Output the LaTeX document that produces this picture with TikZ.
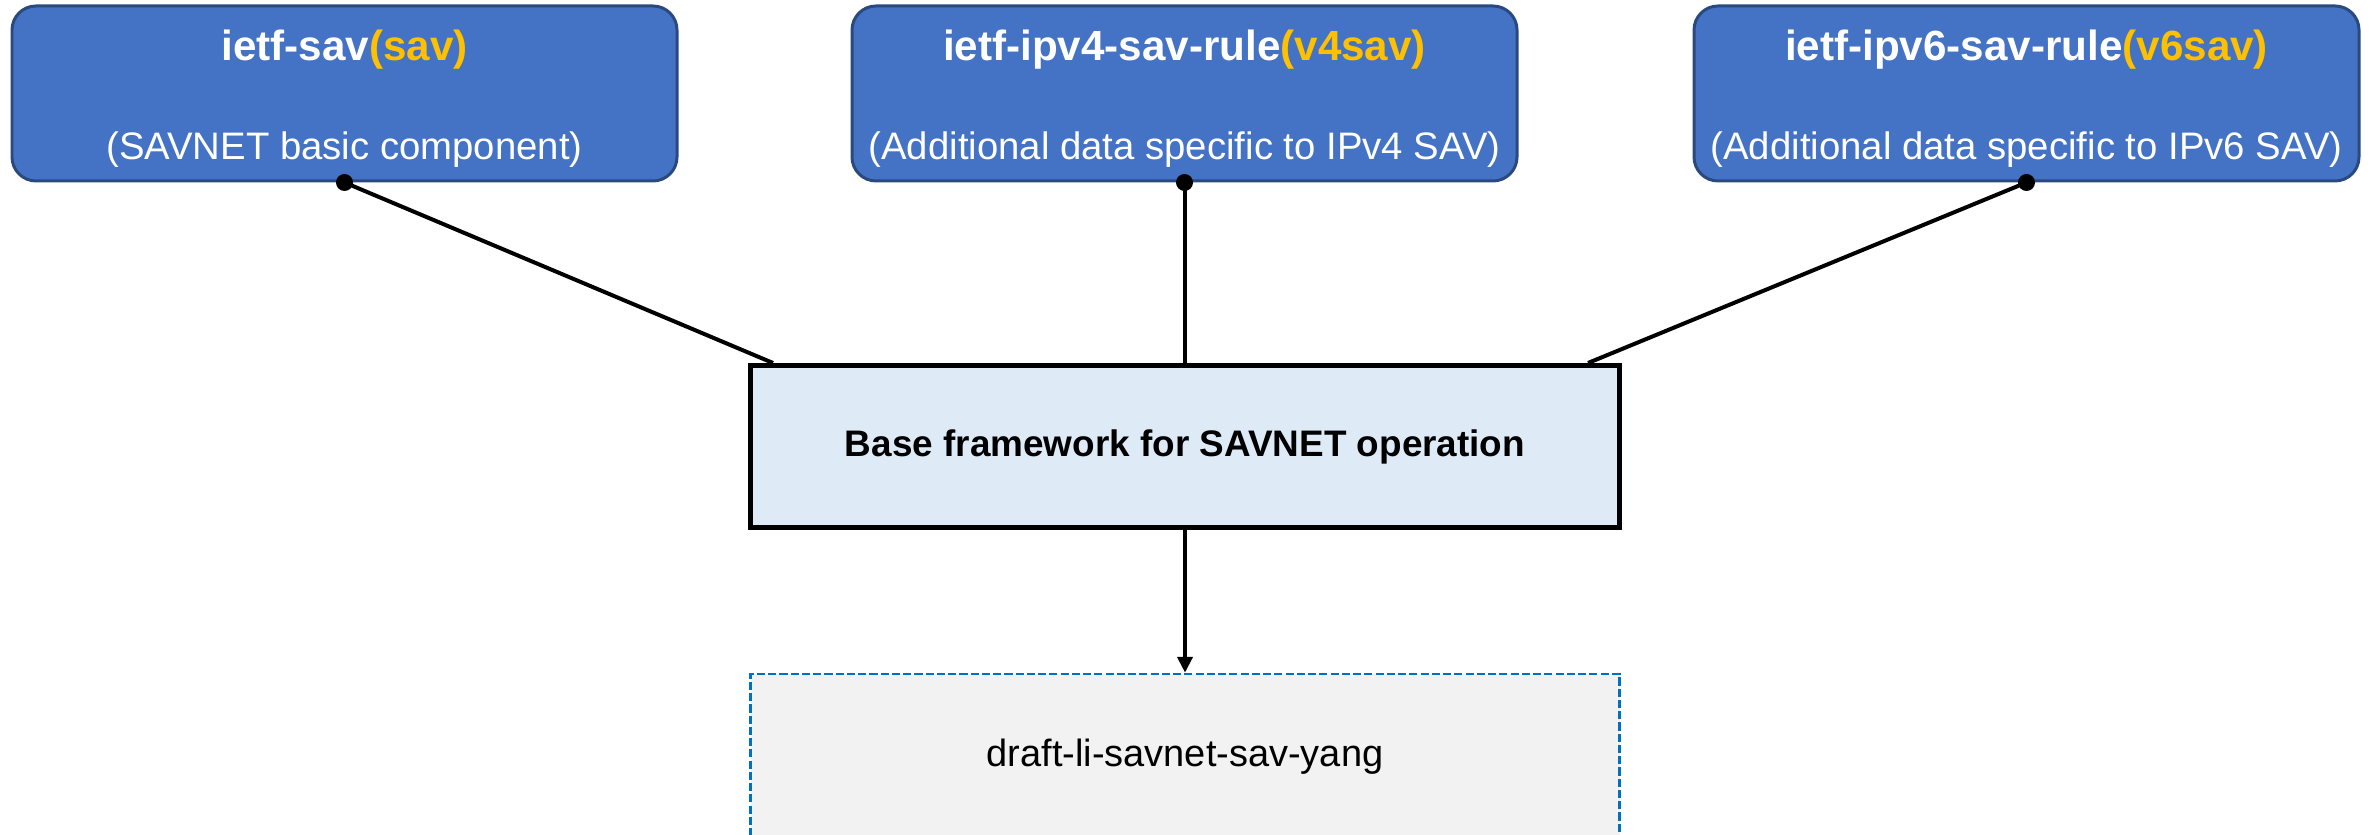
\documentclass[tikz,border=0pt]{standalone}
\usepackage{fontspec}
\setmainfont{Liberation Sans}
\usetikzlibrary{arrows.meta}
\definecolor{modblue}{HTML}{4472C4}
\definecolor{modedge}{HTML}{2A4A7F}
\definecolor{modyellow}{HTML}{FFC000}
\definecolor{basefill}{HTML}{DEEBF7}
\definecolor{yangfill}{HTML}{F2F2F2}
\definecolor{yangedge}{HTML}{0070C0}
\newcommand{\prefixname}[1]{\textcolor{modyellow}{#1}}
\tikzset{
	modbox/.style={draw=modedge, line width=0.85pt, fill=modblue, rounded corners=0.24cm, minimum width=6.65cm, minimum height=1.75cm},
	modtitle/.style={text=white, font=\fontsize{12}{14}\selectfont\bfseries},
	modsub/.style={text=white, font=\fontsize{10.9}{13}\selectfont},
	basebox/.style={draw=black, line width=1.42pt, fill=basefill, minimum width=8.69cm, minimum height=1.62cm, font=\fontsize{10.5}{12.6}\selectfont\bfseries},
	yangbox/.style={draw=yangedge, line width=0.7pt, dash pattern=on 2.3pt off 0.9pt, fill=yangfill, minimum width=8.69cm, minimum height=1.66cm, font=\fontsize{10.8}{13}\selectfont},
	link/.style={line width=1.14pt}
}
\begin{document}
\begin{tikzpicture}
		\useasboundingbox (0,0) rectangle (23.74,8.35);
		% modules
		\node[modbox] (sav) at (3.445,7.415) {};
		\node[modbox] (vfour) at (11.845,7.415) {};
		\node[modbox] (vsix) at (20.265,7.415) {};
		\node[modtitle] (savT) at ([yshift=-0.45cm]sav.north) {ietf-sav\prefixname{(sav)}};
		\node[modsub] (savS) at ([yshift=0.33cm]sav.south) {(SAVNET basic component)};
		\node[modtitle] (vfourT) at ([yshift=-0.45cm]vfour.north) {ietf-ipv4-sav-rule\prefixname{(v4sav)}};
		\node[modsub] (vfourS) at ([yshift=0.33cm]vfour.south) {(Additional data specific to IPv4 SAV)};
		\node[modtitle] (vsixT) at ([yshift=-0.45cm]vsix.north) {ietf-ipv6-sav-rule\prefixname{(v6sav)}};
		\node[modsub] (vsixS) at ([yshift=0.33cm]vsix.south) {(Additional data specific to IPv6 SAV)};
		% framework and draft
		\node[basebox] (base) at (11.85,3.885) {Base framework for SAVNET operation};
		\node[yangbox] (yang) at (11.85,0.78) {draft-li-savnet-sav-yang};
		% connectors
		\draw[link] (sav.south) -- ([xshift=0.25cm]base.north west);
		\draw[link] (vfour.south) -- (vfour.south |- base.north);
		\draw[link] (vsix.south) -- ([xshift=-0.34cm]base.north east);
		\fill (sav.south) circle (0.085);
		\fill (vfour.south) circle (0.085);
		\fill (vsix.south) circle (0.085);
		\draw[link, -{Triangle[length=0.16cm, width=0.15cm]}] (base.south) -- (yang.north);
	\end{tikzpicture}
\end{document}
